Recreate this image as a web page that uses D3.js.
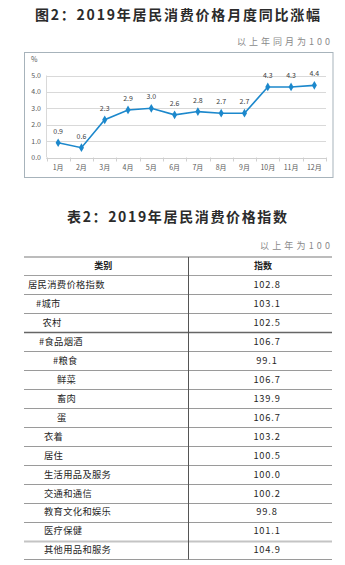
<!DOCTYPE html>
<html><head><meta charset="utf-8">
<script src="https://cdn.jsdelivr.net/npm/d3@7"></script>
<style>
html,body{margin:0;padding:0;background:#fff;}
svg{display:block;font-family:"Noto Sans CJK SC","Noto Sans",sans-serif;}
</style></head>
<body>
<svg id="c" width="345" height="565"></svg>
<script>
// ---- data ----
const chartTitle = "图2：2019年居民消费价格月度同比涨幅";
const chartNote = "以上年同月为100";
const months = ["1月","2月","3月","4月","5月","6月","7月","8月","9月","10月","11月","12月"];
const values = [0.9,0.6,2.3,2.9,3.0,2.6,2.8,2.7,2.7,4.3,4.3,4.4];
const yTicks = [0,1,2,3,4,5];
const yUnit = "%";

const tableTitle = "表2：2019年居民消费价格指数";
const tableNote = "以上年为100";
const tableHeader = ["类别","指数"];
const tableCategories = ["居民消费价格指数","#城市","农村","#食品烟酒","#粮食","鲜菜","畜肉","蛋","衣着","居住","生活用品及服务","交通和通信","教育文化和娱乐","医疗保健","其他用品和服务"];
const tableValues = [102.8,103.1,102.5,106.7,99.1,106.7,139.9,106.7,103.2,100.5,100.0,100.2,99.8,101.1,104.9];

// ---- layout ----
const svg = d3.select("#c");

// titles
svg.append("text").attr("x",35).attr("y",20).attr("textLength",285).attr("lengthAdjust","spacing")
  .attr("font-size",14).attr("font-weight","bold").attr("fill","#2b2b2b").text(chartTitle);
svg.append("text").attr("x",237).attr("y",45).attr("textLength",93).attr("lengthAdjust","spacing")
  .attr("font-size",9).attr("fill","#8a8a8a").text(chartNote);

// chart box
svg.append("rect").attr("x",24.5).attr("y",52.5).attr("width",308.5).attr("height",125)
  .attr("fill","#fff").attr("stroke","#a7b3bb").attr("stroke-width",1);

const x = d3.scaleBand().domain(months).range([46.5,326]);
const y = d3.scaleLinear().domain([0,5]).range([157.5,75.5]);

const g = svg.append("g");
// gridlines
g.selectAll("line.grid").data(yTicks).join("line").attr("class","grid")
  .attr("x1",x.range()[0]).attr("x2",x.range()[1])
  .attr("y1",d=>Math.round(y(d))+0.5).attr("y2",d=>Math.round(y(d))+0.5)
  .attr("stroke","#d9d9d9").attr("stroke-width",1);
// y axis line
g.append("line").attr("x1",46.5).attr("x2",46.5).attr("y1",y(5)).attr("y2",y(0))
  .attr("stroke","#d9d9d9");
// x axis with ticks at category boundaries
const bounds = months.map(m=>x(m)).concat([x.range()[1]]);
g.selectAll("line.xt").data(bounds).join("line").attr("class","xt")
  .attr("x1",d=>Math.round(d)+0.5).attr("x2",d=>Math.round(d)+0.5)
  .attr("y1",y(0)).attr("y2",y(0)+4).attr("stroke","#d0d0d0");
g.append("line").attr("x1",x.range()[0]).attr("x2",x.range()[1])
  .attr("y1",Math.round(y(0))+0.5).attr("y2",Math.round(y(0))+0.5).attr("stroke","#cfcfcf");
// y labels
g.selectAll("text.yl").data(yTicks).join("text").attr("class","yl")
  .attr("x",41).attr("y",d=>y(d)).attr("dy","0.35em").attr("text-anchor","end")
  .attr("font-size",7).attr("fill","#595959").text(d=>d.toFixed(1));
g.append("text").attr("x",31).attr("y",62).attr("font-size",7).attr("fill","#595959").text(yUnit);
// x labels
g.selectAll("text.xl").data(months).join("text").attr("class","xl")
  .attr("x",d=>x(d)+x.bandwidth()/2).attr("y",170).attr("text-anchor","middle")
  .attr("font-size",7).attr("fill","#595959").text(d=>d);
// line
const pts = months.map((m,i)=>({m,v:values[i]}));
const cx = d=>x(d.m)+x.bandwidth()/2;
g.append("path").datum(pts).attr("fill","none").attr("stroke","#1c88cc").attr("stroke-width",1.6)
  .attr("d",d3.line().x(cx).y(d=>y(d.v)));
g.selectAll("path.mk").data(pts).join("path").attr("class","mk")
  .attr("transform",d=>`translate(${cx(d)},${y(d.v)})`)
  .attr("d",d3.symbol(d3.symbolDiamond,22)).attr("fill","#1c88cc");
g.selectAll("text.dl").data(pts).join("text").attr("class","dl")
  .attr("x",cx).attr("y",d=>y(d.v)-9).attr("text-anchor","middle")
  .attr("font-size",7).attr("fill","#404040").text(d=>d.v.toFixed(1));

// ---- table ----
svg.append("text").attr("x",67).attr("y",222).attr("textLength",220).attr("lengthAdjust","spacing")
  .attr("font-size",14).attr("font-weight","bold").attr("fill","#2b2b2b").text(tableTitle);
svg.append("text").attr("x",260).attr("y",249).attr("textLength",70).attr("lengthAdjust","spacing")
  .attr("font-size",9).attr("fill","#8a8a8a").text(tableNote);

const tL = 24, tR = 332, colDiv = 188.5, tTop = 257, headB = 275.5;
const rowH = 18.93;
const rowY = d3.scaleBand().domain(d3.range(tableCategories.length)).range([headB, headB+rowH*tableCategories.length]);
const rowIndent = [28,36,42.5,39,53,57,57,57,44,44,44,44,44,44,44];

const tg = svg.append("g");
tg.append("line").attr("x1",tL).attr("x2",tR).attr("y1",tTop).attr("y2",tTop).attr("stroke","#bcbcbc").attr("stroke-width",2);
tg.append("text").attr("x",(tL+colDiv)/2-3).attr("y",(tTop+headB)/2).attr("dy","0.35em").attr("text-anchor","middle")
  .attr("font-size",9).attr("font-weight","bold").attr("fill","#222").text(tableHeader[0]);
tg.append("text").attr("x",263).attr("y",(tTop+headB)/2).attr("dy","0.35em").attr("text-anchor","middle")
  .attr("font-size",9).attr("font-weight","bold").attr("fill","#222").text(tableHeader[1]);
tg.append("line").attr("x1",tL).attr("x2",tR).attr("y1",headB).attr("y2",headB).attr("stroke","#a0a0a0");

tableCategories.forEach((c,i)=>{
  const y0 = rowY(i), y1 = y0+rowY.bandwidth();
  tg.append("text").attr("x",rowIndent[i]).attr("y",y0+rowY.bandwidth()/2).attr("dy","0.36em")
    .attr("font-size",9.3).attr("fill","#262626").attr("letter-spacing",0.3).text(c);
  tg.append("text").attr("x",267).attr("y",y0+rowY.bandwidth()/2).attr("dy","0.36em").attr("text-anchor","middle")
    .attr("font-size",9.3).attr("fill","#262626").attr("letter-spacing",0.8).text(tableValues[i].toFixed(1));
  let stroke="#9a9a9a", sw=1;
  if (i===2) {stroke="#666"; sw=1.6;}
  if (i===tableCategories.length-2) {stroke="#c4c4c4"; sw=2.2;}
  tg.append("line").attr("x1",tL).attr("x2",tR).attr("y1",Math.round(y1)+0.5).attr("y2",Math.round(y1)+0.5)
    .attr("stroke",stroke).attr("stroke-width",sw);
});
tg.append("line").attr("x1",colDiv).attr("x2",colDiv).attr("y1",tTop).attr("y2",rowY.range()[1]).attr("stroke","#555");
</script>
</body></html>
